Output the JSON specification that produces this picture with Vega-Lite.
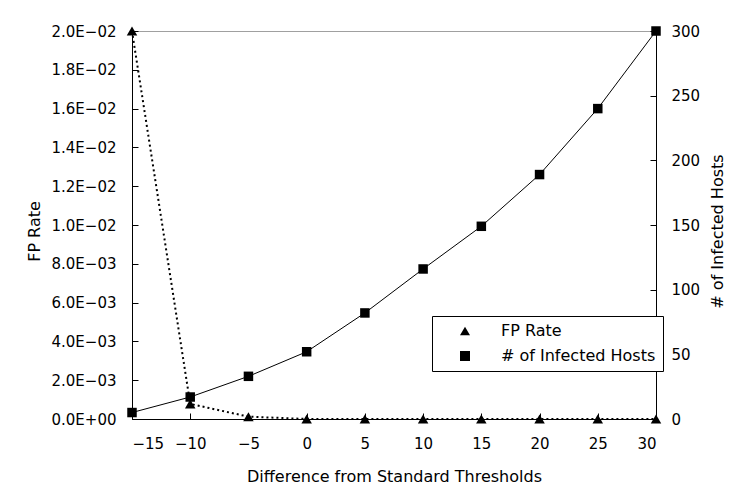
{
  "$schema": "https://vega.github.io/schema/vega-lite/v6.json",
  "width": 524,
  "height": 388,
  "autosize": {"type": "none"},
  "padding": {"left": 132, "top": 31, "right": 85, "bottom": 79},
  "background": "white",
  "config": {
    "font": "DejaVu Sans",
    "view": {"stroke": "#a0a0a0", "strokeWidth": 1},
    "axis": {
      "domainColor": "black",
      "tickColor": "black",
      "labelColor": "black",
      "titleColor": "black",
      "grid": false,
      "labelFont": "DejaVu Sans",
      "titleFont": "DejaVu Sans",
      "labelFontSize": 15,
      "titleFontSize": 16,
      "titleFontWeight": "normal",
      "tickSize": -6,
      "domainWidth": 1,
      "tickWidth": 1
    },
    "legend": {
      "title": null,
      "orient": "none",
      "legendX": 300,
      "legendY": 285,
      "strokeColor": "black",
      "fillColor": "white",
      "padding": 7,
      "rowPadding": 9,
      "labelFont": "DejaVu Sans",
      "labelFontSize": 16,
      "labelColor": "black",
      "labelLimit": 300,
      "symbolSize": 100,
      "symbolOffset": 18,
      "labelOffset": 28
    }
  },
  "data": {
    "values": [
      {"x": -15, "series": "FP Rate", "value": 0.02},
      {"x": -10, "series": "FP Rate", "value": 0.00078},
      {"x": -5, "series": "FP Rate", "value": 0.00012},
      {"x": 0, "series": "FP Rate", "value": 0},
      {"x": 5, "series": "FP Rate", "value": 0},
      {"x": 10, "series": "FP Rate", "value": 0},
      {"x": 15, "series": "FP Rate", "value": 0},
      {"x": 20, "series": "FP Rate", "value": 0},
      {"x": 25, "series": "FP Rate", "value": 0},
      {"x": 30, "series": "FP Rate", "value": 0},
      {"x": -15, "series": "# of Infected Hosts", "value": 5},
      {"x": -10, "series": "# of Infected Hosts", "value": 17},
      {"x": -5, "series": "# of Infected Hosts", "value": 33},
      {"x": 0, "series": "# of Infected Hosts", "value": 52},
      {"x": 5, "series": "# of Infected Hosts", "value": 82},
      {"x": 10, "series": "# of Infected Hosts", "value": 116},
      {"x": 15, "series": "# of Infected Hosts", "value": 149},
      {"x": 20, "series": "# of Infected Hosts", "value": 189},
      {"x": 25, "series": "# of Infected Hosts", "value": 240},
      {"x": 30, "series": "# of Infected Hosts", "value": 300}
    ]
  },
  "encoding": {
    "x": {
      "field": "x",
      "type": "quantitative",
      "scale": {"domain": [-15, 30], "nice": false},
      "axis": {
        "values": [-15, -10, -5, 0, 5, 10, 15, 20, 25, 30],
        "title": "Difference from Standard Thresholds",
        "labelPadding": 23,
        "titleY": 62,
        "titleBaseline": "alphabetic"
      }
    }
  },
  "layer": [
    {
      "transform": [{"filter": "datum.series === 'FP Rate'"}],
      "encoding": {
        "y": {
          "field": "value",
          "type": "quantitative",
          "scale": {"domain": [0, 0.02], "nice": false},
          "axis": {
            "orient": "left",
            "title": "FP Rate",
            "values": [0, 0.002, 0.004, 0.006, 0.008, 0.01, 0.012, 0.014, 0.016, 0.018, 0.02],
            "labelExpr": "datum.value === 0 ? '0.0E+00' : format(datum.value / pow(10, floor(log(datum.value) / LN10 + 1e-9)), '.1f') + 'E\u22120' + (-floor(log(datum.value) / LN10 + 1e-9))",
            "labelPadding": 22,
            "titleX": -93,
            "titleY": 200,
            "titleBaseline": "alphabetic",
            "titleAlign": "center",
            "titleAngle": 270
          }
        }
      },
      "layer": [
        {
          "mark": {"type": "line", "color": "black", "strokeDash": [2, 3], "strokeWidth": 2}
        },
        {
          "mark": {"type": "point", "filled": true, "size": 110, "color": "black", "opacity": 1},
          "encoding": {
            "shape": {
              "field": "series",
              "type": "nominal",
              "scale": {"domain": ["FP Rate", "# of Infected Hosts"], "range": ["triangle-up", "square"]},
              "legend": {
                "encode": {
                  "symbols": {
                    "shape": {"value": {"expr": "datum.value === 'FP Rate' ? 'M-5,0H5M0,-0.9L1.1,0.8L-1.1,0.8Z' : 'M-5,0H5M-0.95,-0.95H0.95V0.95H-0.95Z'"}},
                    "strokeDash": {"value": {"expr": "datum.value === 'FP Rate' ? [2, 3] : [1, 0]"}},
                    "strokeWidth": {"value": {"expr": "datum.value === 'FP Rate' ? 2 : 1"}},
                    "fill": {"value": "black"},
                    "stroke": {"value": "black"}
                  }
                }
              }
            }
          }
        }
      ]
    },
    {
      "transform": [{"filter": "datum.series === '# of Infected Hosts'"}],
      "encoding": {
        "y": {
          "field": "value",
          "type": "quantitative",
          "scale": {"domain": [0, 300], "nice": false},
          "axis": {
            "orient": "right",
            "title": "# of Infected Hosts",
            "values": [0, 50, 100, 150, 200, 250, 300],
            "labelPadding": 21,
            "titleX": 66,
            "titleY": 200,
            "titleBaseline": "alphabetic",
            "titleAlign": "center",
            "titleAngle": 270
          }
        }
      },
      "layer": [
        {
          "mark": {"type": "line", "color": "black", "strokeWidth": 1}
        },
        {
          "mark": {"type": "point", "filled": true, "size": 90, "color": "black", "opacity": 1},
          "encoding": {
            "shape": {
              "field": "series",
              "type": "nominal",
              "scale": {"domain": ["FP Rate", "# of Infected Hosts"], "range": ["triangle-up", "square"]},
              "legend": {
                "encode": {
                  "symbols": {
                    "shape": {"value": {"expr": "datum.value === 'FP Rate' ? 'M-5,0H5M0,-0.9L1.1,0.8L-1.1,0.8Z' : 'M-5,0H5M-0.95,-0.95H0.95V0.95H-0.95Z'"}},
                    "strokeDash": {"value": {"expr": "datum.value === 'FP Rate' ? [2, 3] : [1, 0]"}},
                    "strokeWidth": {"value": {"expr": "datum.value === 'FP Rate' ? 2 : 1"}},
                    "fill": {"value": "black"},
                    "stroke": {"value": "black"}
                  }
                }
              }
            }
          }
        }
      ]
    }
  ],
  "resolve": {"scale": {"y": "independent"}}
}
